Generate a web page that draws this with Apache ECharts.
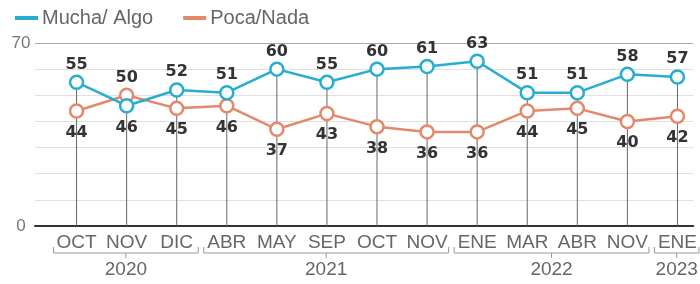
<!DOCTYPE html>
<html>
<head>
<meta charset="utf-8">
<script src="https://cdn.jsdelivr.net/npm/echarts@6/dist/echarts.min.js"></script>
<style>
  html, body { margin: 0; padding: 0; background: #fff; }
  #chart { width: 700px; height: 284px; }
</style>
</head>
<body>
<div id="chart"></div>
<script>
// data
var months = ['OCT', 'NOV', 'DIC', 'ABR', 'MAY', 'SEP', 'OCT', 'NOV', 'ENE', 'MAR', 'ABR', 'NOV', 'ENE'];
var mucha = [55, 46, 52, 51, 60, 55, 60, 61, 63, 51, 51, 58, 57];
var poca = [44, 50, 45, 46, 37, 43, 38, 36, 36, 44, 45, 40, 42];
var years = ['2020', '2021', '2022', '2023'];
var yearFirst = [0, 3, 8, 12];
var yearLast = [2, 7, 11, 12];

var blue = '#27add0';
var orange = '#e2896c';

function pointData(vals, other) {
    return vals.map(function (v, i) {
        var above = v >= other[i];
        return {
            value: [i, v],
            label: { position: above ? 'top' : 'bottom', distance: above ? 2 : 6 }
        };
    });
}

function lineSeries(name, vals, other, color) {
    return {
        name: name,
        type: 'line',
        data: pointData(vals, other),
        symbol: 'circle',
        symbolSize: 13,
        z: 3,
        lineStyle: { color: color, width: 2.5 },
        itemStyle: { color: '#fff', borderColor: color, borderWidth: 2.5 },
        label: {
            show: true,
            fontFamily: 'DejaVu Sans',
            fontWeight: 'bold',
            fontSize: 16,
            color: '#333',
            formatter: function (p) { return p.value[1]; }
        }
    };
}

var chart = echarts.init(document.getElementById('chart'));

var option = {
    animation: false,
    grid: { left: 35, right: 0, top: 43, bottom: 58 },
    legend: {
        left: 10,
        top: 3,
        icon: 'rect',
        itemWidth: 21,
        itemHeight: 2,
        itemGap: 30,
        textStyle: { fontFamily: 'Liberation Sans', fontSize: 20, color: '#666' },
        data: [
            { name: 'Mucha/ Algo', itemStyle: { color: blue } },
            { name: 'Poca/Nada', itemStyle: { color: orange } }
        ]
    },
    xAxis: {
        type: 'value',
        min: -0.83,
        max: 12.317,
        splitLine: { show: false },
        axisLine: { show: true, onZero: true, lineStyle: { color: '#333', width: 2 } },
        axisTick: { show: false },
        axisLabel: {
            customValues: months.map(function (m, i) { return i; }),
            formatter: function (v) { return months[Math.round(v)]; },
            fontFamily: 'Liberation Sans',
            fontSize: 19,
            color: '#666',
            margin: 7,
            showMinLabel: true,
            showMaxLabel: true
        }
    },
    yAxis: {
        type: 'value',
        min: 0,
        max: 70,
        interval: 10,
        axisLine: { show: false },
        axisTick: { show: false },
        splitLine: {
            lineStyle: { color: ['#ccc', '#e0e0e0', '#e0e0e0', '#e0e0e0', '#e0e0e0', '#e0e0e0', '#e0e0e0', '#aaa'], width: 1 }
        },
        axisLabel: {
            fontFamily: 'Liberation Sans',
            fontSize: 17,
            color: '#777',
            margin: 14,
            align: 'center',
            formatter: function (v) { return (v === 0 || v === 70) ? String(v) : ''; }
        }
    },
    series: [
        {
            name: 'drop',
            type: 'bar',
            barWidth: 1,
            silent: true,
            z: 1,
            itemStyle: { color: '#666' },
            data: mucha.map(function (v, i) { return [i, Math.max(v, poca[i])]; })
        },
        lineSeries('Poca/Nada', poca, mucha, orange),
        lineSeries('Mucha/ Algo', mucha, poca, blue)
    ]
};

chart.setOption(option);

// year brackets under the month labels
function drawYears() {
    var graphics = [];
    var yLine = 253;
    years.forEach(function (y, k) {
        var x0 = chart.convertToPixel({ xAxisIndex: 0 }, yearFirst[k] - 0.46);
        var x1 = chart.convertToPixel({ xAxisIndex: 0 }, yearLast[k] + 0.43);
        var xm = (x0 + x1) / 2;
        var st = { stroke: '#999', lineWidth: 1 };
        graphics.push({ type: 'line', shape: { x1: x0, y1: yLine, x2: x1, y2: yLine }, style: st });
        graphics.push({ type: 'line', shape: { x1: x0, y1: yLine - 6, x2: x0, y2: yLine }, style: st });
        graphics.push({ type: 'line', shape: { x1: x1, y1: yLine - 6, x2: x1, y2: yLine }, style: st });
        graphics.push({ type: 'line', shape: { x1: xm, y1: yLine, x2: xm, y2: yLine + 5 }, style: st });
        graphics.push({
            type: 'text',
            x: xm,
            y: 270,
            style: {
                text: y,
                fontFamily: 'Liberation Sans',
                fontSize: 19,
                fill: '#666',
                align: 'center',
                verticalAlign: 'middle'
            }
        });
    });
    chart.setOption({ graphic: graphics });
}
drawYears();

window.addEventListener('resize', function () {
    chart.resize();
    drawYears();
});
</script>
</body>
</html>
